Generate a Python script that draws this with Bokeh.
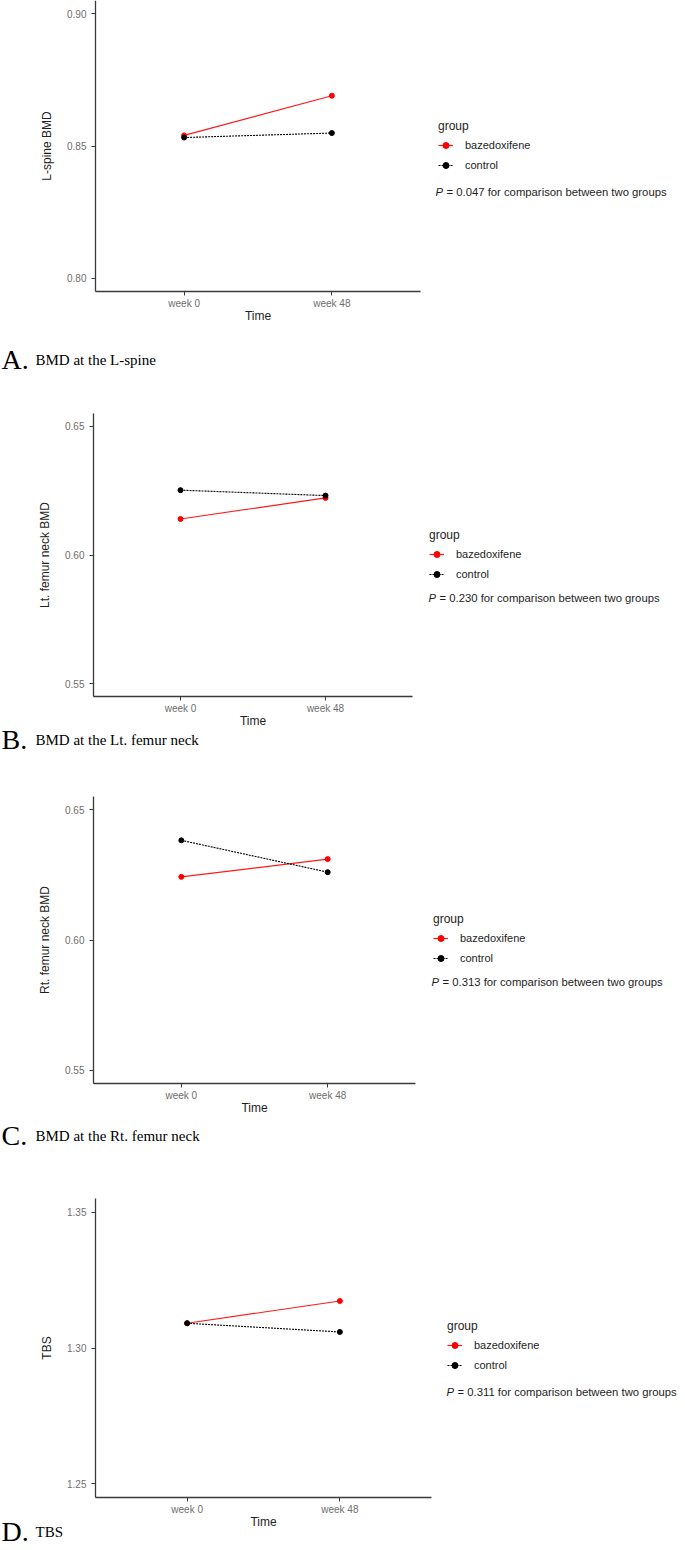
from bokeh.plotting import figure
from bokeh.models import (Range1d, FixedTicker, Label, Legend, LegendItem,
                          PrintfTickFormatter)
from bokeh.layouts import column
from bokeh.embed import file_html
from bokeh.resources import INLINE

# ---------------- data ----------------
times = ["week 0", "week 48"]
group_names = ["bazedoxifene", "control"]

lspine_baz = [0.8540, 0.8690]
lspine_ctl = [0.8532, 0.8549]
lt_neck_baz = [0.6140, 0.6222]
lt_neck_ctl = [0.6252, 0.6231]
rt_neck_baz = [0.6242, 0.6310]
rt_neck_ctl = [0.6382, 0.6260]
tbs_baz = [1.3091, 1.3173]
tbs_ctl = [1.3091, 1.3059]

y_titles = ["L-spine BMD", "Lt. femur neck BMD", "Rt. femur neck BMD", "TBS"]
lspine_ticks = [0.80, 0.85, 0.90]
neck_ticks = [0.55, 0.60, 0.65]
tbs_ticks = [1.25, 1.30, 1.35]
p_values = ["0.047", "0.230", "0.313", "0.311"]
panel_letters = ["A.", "B.", "C.", "D."]
panel_captions = ["BMD at the L-spine", "BMD at the Lt. femur neck",
                  "BMD at the Rt. femur neck", "TBS"]

series = [(lspine_baz, lspine_ctl, lspine_ticks),
          (lt_neck_baz, lt_neck_ctl, neck_ticks),
          (rt_neck_baz, rt_neck_ctl, neck_ticks),
          (tbs_baz, tbs_ctl, tbs_ticks)]

# ---------------- layout (page pixel coordinates) ----------------
FIG_W = 685
# fig top, fig bottom, axis-box L, T, R, B
geom = [
    (0, 380, 95, 0, 420, 291),
    (380, 758, 93, 413, 412, 696),
    (758, 1152, 93, 796, 415, 1083),
    (1152, 1550, 95, 1198, 431, 1497),
]
# legend left, legend title top, P-text x, P-text centre y, caption baseline
leg = [
    (438, 119, 435, 191, 359),
    (429, 528, 428, 597, 739),
    (433, 912, 431, 981, 1135),
    (447, 1319, 446, 1391, 1531),
]
LEG_H = 56
X_LO, X_HI = 0.4, 2.6

SANS = "Liberation Sans"
SERIF = "Liberation Serif"
INK = "#1e1e1e"

figs = []
xs = [i + 1 for i in range(len(times))]
for k, (baz, ctl, ticks) in enumerate(series):
    ftop, fbot, L, T, R, B = geom[k]
    lo, hi = ticks[0], ticks[-1]
    span = hi - lo
    y0 = lo - 0.05 * span
    y_axis_top = hi + 0.05 * span
    per_py = (y_axis_top - y0) / (B - T)
    pxu = (R - L) / (X_HI - X_LO)

    x_start = X_LO - L / pxu
    x_end = X_LO + (FIG_W - L) / pxu
    y_start = y0 - (fbot - B) * per_py
    y_end = y0 + (B - ftop) * per_py

    p = figure(width=FIG_W, height=fbot - ftop, output_backend="svg",
               toolbar_location=None,
               x_range=Range1d(x_start, x_end), y_range=Range1d(y_start, y_end),
               min_border_left=0, min_border_right=0,
               min_border_top=0, min_border_bottom=0,
               background_fill_color="white", border_fill_color="white")
    p.outline_line_color = None
    p.grid.visible = False

    r1 = p.line(xs, baz, line_color="#ff1a1a", line_width=1.2)
    s1 = p.scatter(xs, baz, size=5, fill_color="red", line_color="red")
    r2 = p.line(xs, ctl, line_color="black", line_width=1.1, line_dash="2 1")
    s2 = p.scatter(xs, ctl, size=5, fill_color="black", line_color="black")

    for ax in (p.xaxis[0], p.yaxis[0]):
        ax.axis_line_color = "#3a3a3a"
        ax.axis_line_width = 1.3
        ax.major_tick_line_color = "#3a3a3a"
        ax.major_tick_out = 4
        ax.major_tick_in = 0
        ax.minor_tick_line_color = None
        ax.major_label_text_font = SANS
        ax.major_label_text_color = "#6e6e6e"
        ax.axis_label_text_font = SANS
        ax.axis_label_text_font_style = "normal"
        ax.axis_label_text_font_size = "12px"
        ax.axis_label_text_color = INK

    p.xaxis.fixed_location = y0
    p.xaxis.bounds = (X_LO, X_HI)
    p.xaxis.ticker = FixedTicker(ticks=xs)
    p.xaxis.major_label_overrides = {x: t for x, t in zip(xs, times)}
    p.xaxis.major_label_text_font_size = "10px"
    p.xaxis.major_label_standoff = 2
    p.xaxis.axis_label = "Time"
    p.xaxis.axis_label_standoff = -3

    p.yaxis.fixed_location = X_LO
    p.yaxis.bounds = (y0, y_axis_top)
    p.yaxis.ticker = FixedTicker(ticks=ticks)
    p.yaxis.formatter = PrintfTickFormatter(format="%.2f")
    p.yaxis.major_label_text_font_size = "10px"
    p.yaxis.major_label_standoff = 5
    p.yaxis.axis_label = y_titles[k]
    p.yaxis.axis_label_standoff = 10

    lx, ttop, px, pcy, cap_y = leg[k]
    legend = Legend(
        items=[LegendItem(label=group_names[0], renderers=[r1, s1]),
               LegendItem(label=group_names[1], renderers=[r2, s2])],
        title="group", location=(lx, fbot - (ttop + LEG_H)),
        padding=0, margin=0, spacing=0, glyph_width=15, glyph_height=20,
        label_height=20, label_standoff=12, title_standoff=2,
        border_line_alpha=0, background_fill_alpha=0,
        title_text_font=SANS, title_text_font_size="12px",
        title_text_font_style="normal", title_text_color=INK,
        label_text_font=SANS, label_text_font_size="11px",
        label_text_color=INK)
    p.add_layout(legend)

    p.add_layout(Label(x=px, y=fbot - pcy, x_units="screen", y_units="screen",
                       text="P", text_font=SANS, text_font_style="italic",
                       text_font_size="11.3px", text_color=INK,
                       text_baseline="middle", text_align="left"))
    p.add_layout(Label(x=px + 11, y=fbot - pcy, x_units="screen", y_units="screen",
                       text="= " + p_values[k] + " for comparison between two groups",
                       text_font=SANS, text_font_size="11.3px", text_color=INK,
                       text_baseline="middle", text_align="left"))

    p.add_layout(Label(x=1, y=fbot - cap_y, x_units="screen", y_units="screen",
                       text=panel_letters[k], text_font=SERIF, text_font_size="28px",
                       text_color="black", text_baseline="alphabetic", text_align="left"))
    p.add_layout(Label(x=35, y=fbot - cap_y, x_units="screen", y_units="screen",
                       text=panel_captions[k], text_font=SERIF, text_font_size="15px",
                       text_color="black", text_baseline="alphabetic", text_align="left"))
    figs.append(p)

page = column(*figs, spacing=0)
open("out.html", "w").write(file_html(page, INLINE))
